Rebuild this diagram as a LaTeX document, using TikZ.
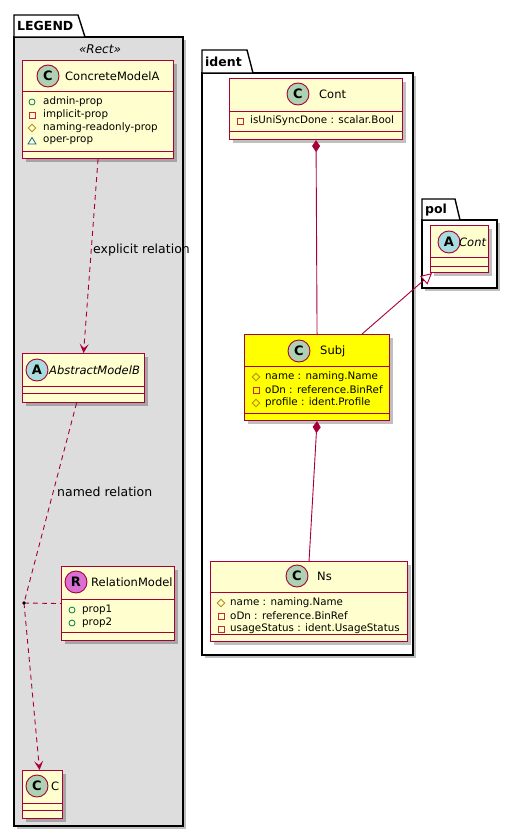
\documentclass[tikz,border=0pt]{standalone}
\usepackage{fontspec}
\setmainfont{DejaVu Sans}
\usetikzlibrary{arrows.meta,shadows}
\definecolor{crim}{HTML}{A80036}
\definecolor{clsfill}{HTML}{FEFECE}
\definecolor{legbg}{HTML}{DDDDDD}
\definecolor{subjfill}{HTML}{FFFF00}
\definecolor{cgreen}{HTML}{ADD1B2}
\definecolor{ablue}{HTML}{A9DCDF}
\definecolor{rpink}{HTML}{DA70D6}
\definecolor{pubc}{HTML}{038048}
\definecolor{privc}{HTML}{C82930}
\definecolor{protc}{HTML}{B38D22}
\definecolor{pkgc}{HTML}{1963A0}
\begin{document}
\begin{tikzpicture}[x=1pt,y=-1pt,
  shad/.style={drop shadow={shadow xshift=3pt,shadow yshift=-3pt,fill=black,opacity=0.25}},
  cls/.style={rectangle,draw=crim,fill=clsfill,line width=1.1pt,inner sep=0pt,anchor=north west,shad},
  sepline/.style={draw=crim,line width=0.9pt},
  pkgbody/.style={draw=black,line width=1.4pt,shad},
  pkgtab/.style={draw=black,line width=1.4pt,fill=white},
  pkgtitle/.style={anchor=west,inner sep=0pt,font=\fontsize{12.5}{14}\selectfont\bfseries},
  cname/.style={anchor=west,inner sep=0pt,font=\fontsize{11.5}{13}\selectfont},
  aname/.style={anchor=west,inner sep=0pt,font=\fontsize{11.5}{13}\selectfont\itshape},
  attr/.style={anchor=west,inner sep=0pt,font=\fontsize{10.3}{12}\selectfont},
  lbl/.style={anchor=west,inner sep=0pt,font=\fontsize{12.5}{14}\selectfont},
  spot/.style={circle,draw=crim,line width=0.9pt,minimum size=22pt,inner sep=0pt,font=\fontsize{13}{13}\selectfont\bfseries},
  dep/.style={draw=crim,line width=0.9pt,dash pattern=on 5pt off 4pt,-{Stealth[length=9pt,width=9pt,inset=4pt]}},
  assocl/.style={draw=crim,line width=0.9pt,dash pattern=on 5pt off 4pt},
  comp/.style={draw=crim,line width=0.9pt,{Diamond[length=12pt,width=8pt,fill=crim]}-},
  gen/.style={draw=crim,line width=0.9pt,-{Triangle[open,length=11pt,width=11pt,fill=white]}},
  pubicon/.pic={\draw[pubc,line width=0.8pt] (0,0) circle (3);},
  privicon/.pic={\draw[privc,line width=0.8pt] (-3,-3) rectangle (3,3);},
  proticon/.pic={\draw[protc,line width=0.8pt] (0,-3.8) -- (3.8,0) -- (0,3.8) -- (-3.8,0) -- cycle;},
  pkgicon/.pic={\draw[pkgc,line width=0.8pt] (0,-3.5) -- (4,3) -- (-4,3) -- cycle;}
]
\useasboundingbox (0,0) rectangle (517,837);

% ---------------- packages ----------------
\draw[pkgbody,fill=legbg] (14,37) rectangle (183,826);
\draw[pkgtab] (14,37) -- (14,15) -- (78,15) -- (85,37) -- cycle;
\node[pkgtitle] (legendT) at (17,26) {LEGEND};
\node[inner sep=0pt,font=\fontsize{12}{14}\selectfont\itshape] (stereo) at (100,49) {«Rect»};

\draw[pkgbody,fill=white] (202,73) rectangle (413,655);
\draw[pkgtab] (202,73) -- (202,50) -- (247,50) -- (253,73) -- cycle;
\node[pkgtitle] (identT) at (205,62) {ident};

\draw[pkgbody,fill=white] (422,220) rectangle (497,288);
\draw[pkgtab] (422,220) -- (422,199) -- (455,199) -- (460,220) -- cycle;
\node[pkgtitle] (polT) at (425,210) {pol};

% ---------------- LEGEND classes ----------------
% ConcreteModelA
\node[cls,minimum width=151pt,minimum height=98pt] (cA) at (22,60) {};
\draw[sepline] (22,91) -- (173,91);
\draw[sepline] (22,151) -- (173,151);
\node[spot,fill=cgreen] (cAs) at (48,76) {C};
\node[cname] (cAn) at (65,76) {ConcreteModelA};
\pic at (32,102) {pubicon};
\node[attr] (cA1) at (43,102) {admin-prop};
\pic at (32,115) {privicon};
\node[attr] (cA2) at (43,115) {implicit-prop};
\pic at (32,128) {proticon};
\node[attr] (cA3) at (43,128) {naming-readonly-prop};
\pic at (32,141) {pkgicon};
\node[attr] (cA4) at (43,141) {oper-prop};

% AbstractModelB
\node[cls,minimum width=122pt,minimum height=49pt] (aB) at (22,353) {};
\draw[sepline] (22,386) -- (144,386);
\draw[sepline] (22,393) -- (144,393);
\node[spot,fill=ablue] (aBs) at (37,370) {A};
\node[aname] (aBn) at (49,370) {AbstractModelB};

% RelationModel
\node[cls,minimum width=113pt,minimum height=74pt] (rM) at (61,566) {};
\draw[sepline] (61,599) -- (174,599);
\draw[sepline] (61,632) -- (174,632);
\node[spot,fill=rpink] (rMs) at (76,582) {R};
\node[cname] (rMn) at (91,582) {RelationModel};
\pic at (72,610) {pubicon};
\node[attr] (rM1) at (82,610) {prop1};
\pic at (72,623) {pubicon};
\node[attr] (rM2) at (82,623) {prop2};

% C
\node[cls,minimum width=40pt,minimum height=48pt] (cC) at (22,770) {};
\draw[sepline] (22,803) -- (62,803);
\draw[sepline] (22,810) -- (62,810);
\node[spot,fill=cgreen] (cCs) at (37,786) {C};
\node[cname] (cCn) at (51,786) {C};

% ---------------- ident classes ----------------
% Cont
\node[cls,minimum width=173pt,minimum height=61pt] (cont) at (229,78) {};
\draw[sepline] (229,111) -- (402,111);
\draw[sepline] (229,131) -- (402,131);
\node[spot,fill=cgreen] (conts) at (298,94) {C};
\node[cname] (contn) at (319,94) {Cont};
\pic at (240,121) {privicon};
\node[attr] (cont1) at (250,121) {isUniSyncDone : scalar.Bool};

% Subj
\node[cls,fill=subjfill,minimum width=145pt,minimum height=86pt] (subj) at (244,334) {};
\draw[sepline] (244,366) -- (389,366);
\draw[sepline] (244,413) -- (389,413);
\node[spot,fill=cgreen] (subjs) at (299,351) {C};
\node[cname] (subjn) at (320,351) {Subj};
\pic at (256,377) {proticon};
\node[attr] (subj1) at (265,377) {name : naming.Name};
\pic at (256,390) {privicon};
\node[attr] (subj2) at (265,390) {oDn : reference.BinRef};
\pic at (256,403) {proticon};
\node[attr] (subj3) at (265,403) {profile : ident.Profile};

% Ns
\node[cls,minimum width=197pt,minimum height=80pt] (ns) at (210,561) {};
\draw[sepline] (210,592) -- (407,592);
\draw[sepline] (210,634) -- (407,634);
\node[spot,fill=cgreen] (nss) at (297,576) {C};
\node[cname] (nsn) at (317,576) {Ns};
\pic at (221,603) {proticon};
\node[attr] (ns1) at (230,603) {name : naming.Name};
\pic at (221,616) {privicon};
\node[attr] (ns2) at (230,616) {oDn : reference.BinRef};
\pic at (221,629) {privicon};
\node[attr] (ns3) at (230,629) {usageStatus : ident.UsageStatus};

% pol Cont
\node[cls,minimum width=58pt,minimum height=47pt] (pcont) at (430,225) {};
\draw[sepline] (430,257) -- (488,257);
\draw[sepline] (430,266) -- (488,266);
\node[spot,fill=ablue] (pconts) at (449,242) {A};
\node[aname] (pcontn) at (459,242) {Cont};

% ---------------- connectors ----------------
\draw[dep] (cA.south) -- (aB.north);
\node[lbl] (l1) at (93,250) {explicit relation};

\coordinate (j) at (24,603);
\draw[assocl] ([xshift=-7pt]aB.south) -- (j);
\draw[dep] (j) -- ([xshift=-3pt]cC.north);
\draw[assocl] (j) -- (rM.west);
\fill (j) circle (1.8);
\node[lbl] (l2) at (57,492) {named relation};

\draw[comp] (cont.south) -- (subj.north);
\draw[comp] (subj.south) -- (ns.north);
\draw[gen] ([xshift=45pt]subj.north) -- ([xshift=2pt]pcont.south west);
\end{tikzpicture}
\end{document}
